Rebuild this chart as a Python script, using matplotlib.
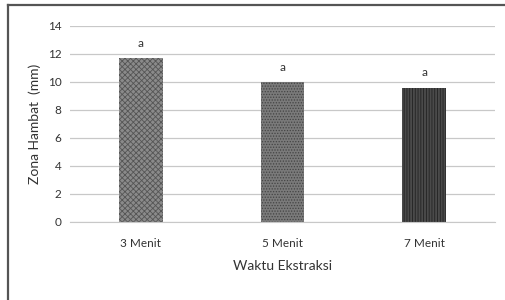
import matplotlib
matplotlib.use('Agg')
import matplotlib.pyplot as plt
import matplotlib.lines as mlines

categories = ['3 Menit', '5 Menit', '7 Menit']
values = [11.7, 10.0, 9.6]
letters = ['a', 'a', 'a']
hatches = ['xxxxxx', '......', '||||||']
face_colors = ['#8a8a8a', '#7a7a7a', '#4a4a4a']
hatch_colors = ['#555555', '#444444', '#222222']

plt.rcParams.update({
    'font.family': ['Lato', 'DejaVu Sans'],
    'font.size': 8,
    'hatch.linewidth': 0.6,
})

fig = plt.figure(figsize=(5.05, 3.0), dpi=100)
ax = fig.add_axes([70 / 505, 1 - 221.7 / 300, 425 / 505, 195.7 / 300])

x = range(len(categories))
bars = ax.bar(x, values, width=0.31, color=face_colors, linewidth=0)
for bar, h, hc in zip(bars, hatches, hatch_colors):
    bar.set_hatch(h)
    bar.set_edgecolor(hc)
    bar.set_linewidth(0)

for xi, v, lab in zip(x, values, letters):
    ax.text(xi, v + 0.65, lab, ha='center', va='bottom', fontsize=8.5, color='#333333')

ax.set_xlim(-0.5, 2.5)
ax.set_ylim(0, 14)
ax.set_yticks(range(0, 15, 2))
ax.set_xticks(list(x))
ax.set_xticklabels(categories)
ax.yaxis.grid(True, color='#c8c8c8', linewidth=0.9)
ax.set_axisbelow(True)
for s in ['top', 'right', 'left']:
    ax.spines[s].set_visible(False)
ax.spines['bottom'].set_color('#c8c8c8')
ax.tick_params(axis='both', length=0, colors='#333333', labelsize=8.5)
ax.tick_params(axis='x', pad=12)
ax.tick_params(axis='y', pad=6)
ax.set_xlabel('Waktu Ekstraksi', fontsize=10, color='#333333', labelpad=8)
ax.set_ylabel('Zona Hambat  (mm)', fontsize=10, color='#333333', labelpad=5)

# outer frame (only left and top edges visible, as in the cropped original)
fig.lines.append(mlines.Line2D([8 / 505, 8 / 505], [0, 1 - 5 / 300],
                               transform=fig.transFigure, color='#555555', linewidth=1.6))
fig.lines.append(mlines.Line2D([8 / 505, 1], [1 - 5 / 300, 1 - 5 / 300],
                               transform=fig.transFigure, color='#555555', linewidth=1.6))

fig.savefig('out.png', dpi=100)
